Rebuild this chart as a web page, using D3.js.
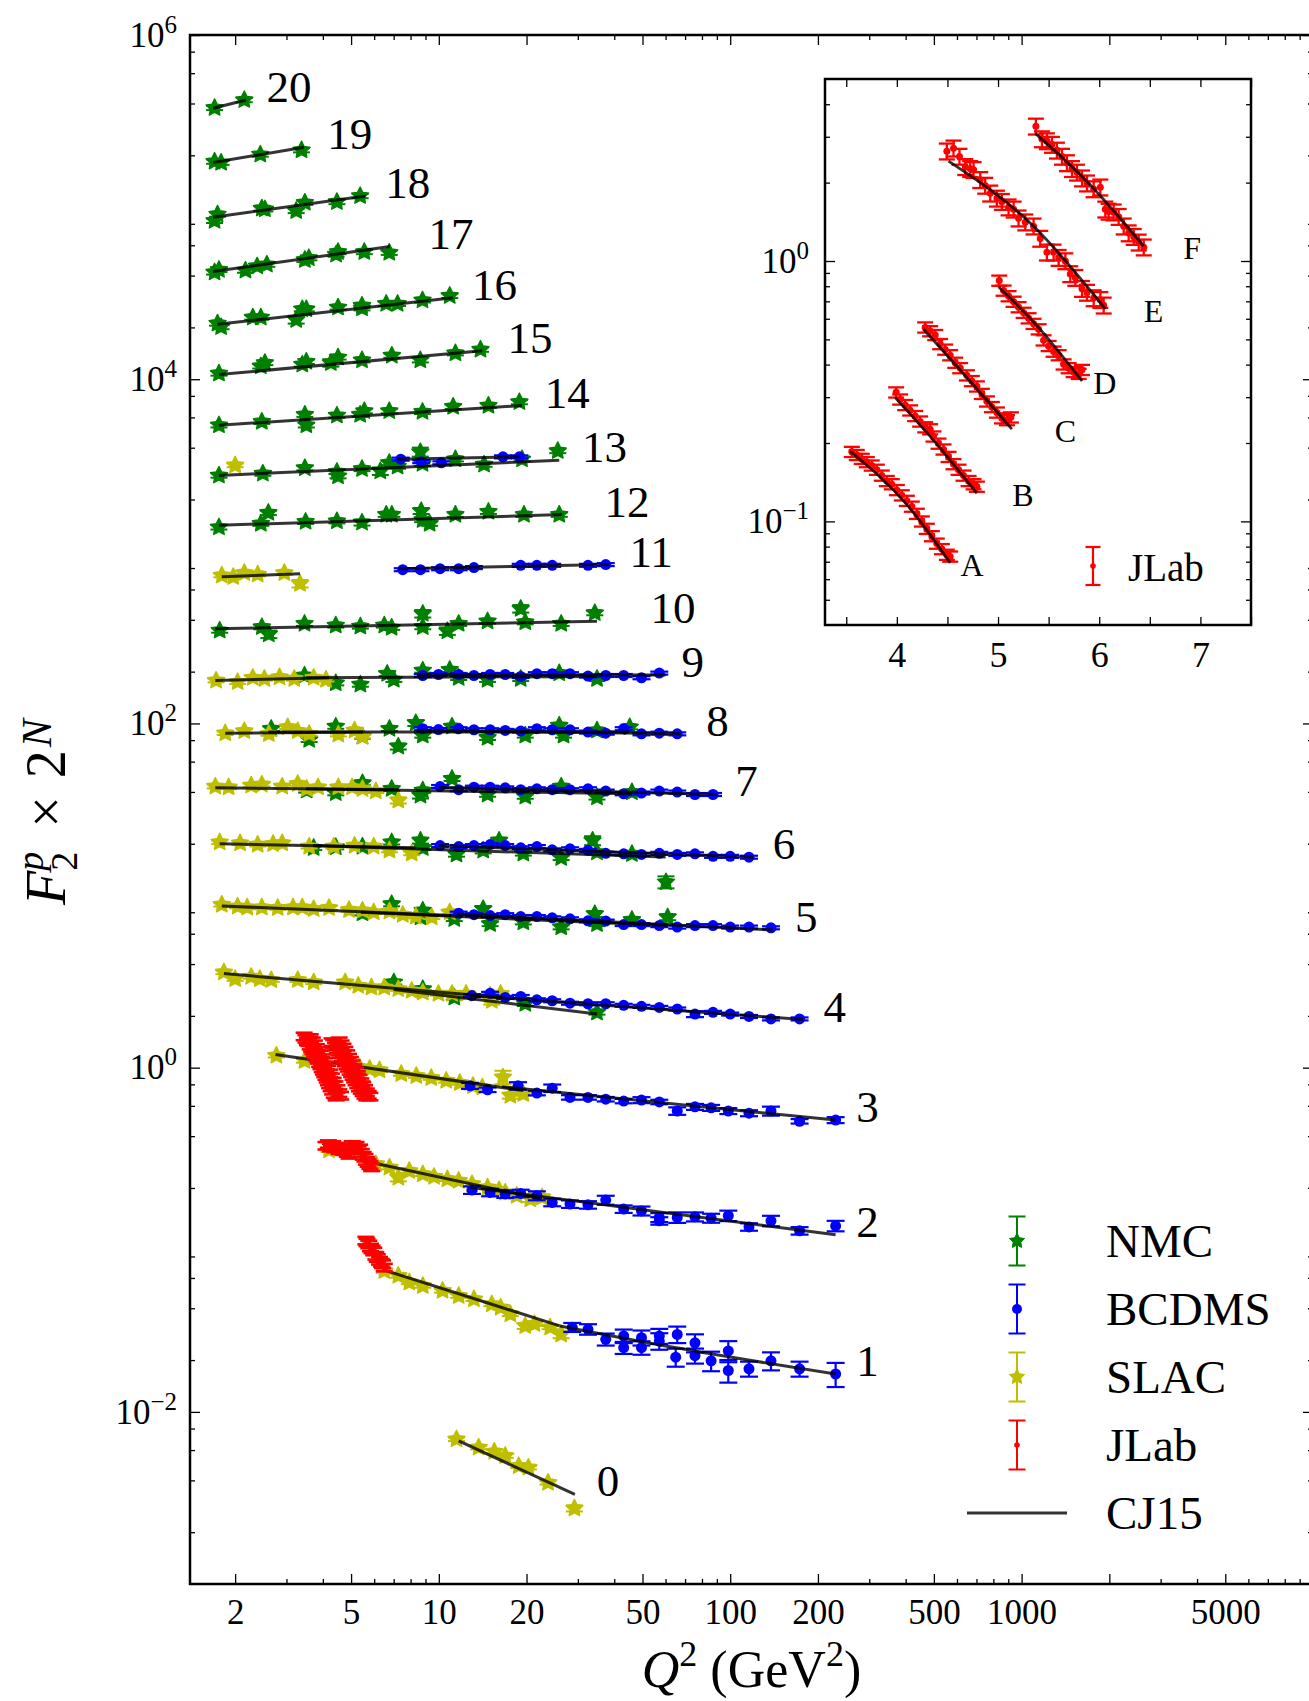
<!DOCTYPE html>
<html>
<head>
<meta charset="utf-8">
<script src="https://cdn.jsdelivr.net/npm/d3@7"></script>
<style>
    body { margin: 0; background: #fff; }
    svg text { font-family: "Liberation Serif", "DejaVu Serif", serif; }
</style>
</head>
<body>
<div id="chart"></div>
<script>

/* * * * * * * * * * * * * *
 *          DATA            *
 * * * * * * * * * * * * * */

// rows: [N, Q2, F2, relErr(optional)]  -> plotted as F2 * 2^N
const nmcData = [
    [20,1.70,0.360],[20,2.15,0.400],
    [19,1.70,0.351],[19,1.79,0.346],[19,2.44,0.386],[19,3.38,0.409],
    [18,1.70,0.318],[18,1.74,0.346],[18,2.47,0.375],[18,2.53,0.371],[18,3.24,0.363],[18,3.47,0.405],[18,4.47,0.409],[18,5.37,0.443],
    [17,1.70,0.319],[17,1.76,0.330],[17,2.17,0.327],[17,2.38,0.346],[17,2.57,0.354],[17,3.47,0.377],[17,3.58,0.386],[17,4.44,0.405],[17,4.51,0.419],[17,5.55,0.419],[17,6.76,0.415],
    [16,1.74,0.322],[16,1.79,0.307],[16,2.30,0.349],[16,2.45,0.349],[16,3.24,0.338,0.05],[16,3.40,0.390],[16,3.51,0.390],[16,4.51,0.399],[16,5.45,0.409],[16,5.45,0.395],[16,6.60,0.419],[16,7.22,0.419],[16,8.79,0.439],[16,10.9,0.466],
    [15,1.76,0.330],[15,2.45,0.363],[15,2.53,0.380],[15,3.40,0.372],[15,3.51,0.386],[15,4.26,0.380,0.05],[15,4.51,0.409],[15,5.45,0.394],[15,6.90,0.419],[15,8.64,0.394],[15,11.4,0.433],[15,13.9,0.454],
    [14,1.76,0.330],[14,2.47,0.346],[14,3.47,0.380],[14,3.51,0.330],[14,4.47,0.376],[14,5.37,0.380],[14,5.55,0.399],[14,6.76,0.399],[14,8.79,0.395],[14,11.2,0.423],[14,14.8,0.429],[14,18.9,0.450],
    [13,1.76,0.337],[13,2.49,0.346],[13,3.47,0.372],[13,4.47,0.354],[13,4.51,0.334],[13,5.45,0.368],[13,6.30,0.357,0.05],[13,6.76,0.399],[13,7.22,0.380],[13,8.64,0.461,0.06],[13,8.79,0.394],[13,11.4,0.419],[13,14.3,0.390],[13,19.3,0.419],[13,25.6,0.468],
    [12,1.76,0.337],[12,2.45,0.354],[12,2.60,0.409],[12,3.49,0.363],[12,4.47,0.366],[12,5.45,0.359,0.04],[12,6.60,0.399],[12,6.90,0.399],[12,8.70,0.419,0.04],[12,8.80,0.372],[12,9.30,0.354],[12,11.4,0.399],[12,14.8,0.415],[12,19.6,0.399],[12,25.9,0.399],
    [10,1.77,0.339],[10,2.47,0.355],[10,2.61,0.322,0.05],[10,3.46,0.371],[10,4.43,0.363],[10,5.38,0.358],[10,6.50,0.363],[10,6.89,0.352],[10,8.81,0.424,0.05],[10,8.81,0.355],[10,10.7,0.336,0.05],[10,11.7,0.371],[10,14.7,0.383],[10,19.1,0.453,0.05],[10,19.8,0.379],[10,26.3,0.371],[10,34.3,0.428],
    [9,3.46,0.371],[9,4.43,0.335],[9,5.38,0.329],[9,6.65,0.380],[9,7.01,0.351],[9,8.81,0.397],[9,10.9,0.401],[9,11.7,0.360],[9,14.7,0.351],[9,19.1,0.355],[9,25.9,0.383],[9,34.9,0.355],
    [8,2.66,0.364],[8,3.59,0.314],[8,4.43,0.375],[8,5.47,0.328],[8,6.77,0.364],[8,7.26,0.287,0.04],[8,8.34,0.393,0.04],[8,8.81,0.333],[8,11.1,0.375],[8,14.7,0.323],[8,19.8,0.333],[8,25.9,0.380],[8,26.8,0.333],[8,34.9,0.356],[8,45.2,0.372],
    [7,3.52,0.319],[7,4.43,0.308],[7,5.47,0.352],[7,6.89,0.326],[7,8.65,0.298,0.04],[7,8.81,0.319],[7,11.1,0.373],[7,14.7,0.302],[7,19.8,0.294],[7,26.3,0.336],[7,34.9,0.291],[7,46.0,0.312],
    [6,3.72,0.296],[6,4.43,0.299],[6,5.47,0.301],[6,6.89,0.319],[6,8.65,0.326,0.04],[6,8.81,0.296],[6,11.5,0.271],[6,14.2,0.286,0.04],[6,16.1,0.326,0.04],[6,19.5,0.275],[6,26.3,0.259],[6,33.7,0.326,0.06],[6,34.9,0.279],[6,46.0,0.273],[6,60.2,0.187,0.08],
    [5,5.47,0.247],[5,6.89,0.279],[5,8.65,0.234],[5,8.81,0.256],[5,11.3,0.229],[5,14.2,0.261,0.04],[5,15.0,0.214],[5,19.5,0.219],[5,26.3,0.205],[5,34.3,0.244,0.04],[5,34.9,0.214],[5,46.0,0.226],[5,61.0,0.234,0.04],
    [4,7.01,0.196],[4,8.81,0.179],[4,11.3,0.160],[4,19.8,0.147],[4,34.9,0.131]
];

const bcdmsData = [
    [13,7.40,0.419],[13,8.70,0.405],[13,10.2,0.399],[13,16.6,0.432],[13,18.9,0.432],
    [11,7.52,0.382],[11,8.65,0.382],[11,10.1,0.387],[11,11.7,0.387],[11,13.2,0.393],[11,19.1,0.405],[11,21.7,0.405],[11,24.5,0.405],[11,32.5,0.405],[11,37.4,0.409],
    [9,8.81,0.371],[9,9.97,0.376],[9,11.7,0.376],[9,13.2,0.371],[9,15.0,0.376],[9,16.9,0.376],[9,19.1,0.366],[9,21.7,0.380],[9,24.5,0.380],[9,28.2,0.380],[9,32.5,0.368],[9,37.4,0.371],[9,43.1,0.371],[9,49.6,0.360],[9,57.1,0.383],
    [8,8.81,0.364],[8,9.97,0.360],[8,11.7,0.364],[8,13.2,0.359],[8,15.0,0.359],[8,16.9,0.356],[8,19.1,0.353],[8,21.7,0.364],[8,24.5,0.359],[8,28.2,0.359],[8,32.5,0.348],[8,37.4,0.343],[8,43.1,0.364],[8,49.6,0.340],[8,57.1,0.343],[8,65.8,0.340],
    [7,10.1,0.336],[7,11.7,0.322],[7,13.2,0.333],[7,15.0,0.333],[7,16.9,0.330],[7,19.1,0.322],[7,21.7,0.326],[7,24.5,0.322],[7,28.2,0.322],[7,32.5,0.326],[7,37.4,0.316],[7,43.1,0.305],[7,49.6,0.308],[7,57.1,0.316],[7,65.8,0.312],[7,75.7,0.302],[7,87.3,0.302],
    [6,10.1,0.305],[6,11.7,0.301],[6,13.2,0.305],[6,15.0,0.309],[6,16.9,0.305],[6,19.1,0.296],[6,21.7,0.301],[6,24.5,0.288],[6,28.2,0.292],[6,32.5,0.286],[6,37.4,0.275],[6,43.1,0.273],[6,49.6,0.271],[6,57.1,0.275],[6,65.8,0.271],[6,75.7,0.273],[6,87.3,0.264],[6,100,0.264],[6,116,0.261],
    [5,11.7,0.247],[5,13.2,0.242],[5,15.0,0.239],[5,16.9,0.242],[5,19.1,0.236],[5,21.7,0.236],[5,24.5,0.232],[5,28.2,0.229],[5,32.5,0.223],[5,37.4,0.222],[5,43.1,0.212],[5,49.6,0.212],[5,57.1,0.209],[5,65.8,0.205],[5,75.7,0.209],[5,87.3,0.209],[5,100,0.205],[5,116,0.205],[5,138,0.203],
    [4,13.0,0.164],[4,15.0,0.169],[4,16.9,0.160],[4,19.1,0.162],[4,21.7,0.155],[4,24.5,0.153],[4,28.2,0.148],[4,32.5,0.147],[4,37.4,0.147],[4,43.1,0.144],[4,49.6,0.142],[4,57.1,0.140],[4,65.8,0.137],[4,75.7,0.128,0.04],[4,87.3,0.131],[4,100,0.128],[4,116,0.124],[4,138,0.120],[4,173,0.120],
    [3,12.8,0.098,0.04],[3,14.7,0.093,0.03],[3,18.7,0.098,0.05],[3,21.7,0.089,0.03],[3,24.5,0.095,0.05],[3,28.2,0.084,0.03],[3,32.5,0.084,0.03],[3,37.4,0.082,0.03],[3,43.1,0.080,0.03],[3,49.6,0.081,0.04],[3,57.1,0.079,0.03],[3,65.8,0.070,0.05],[3,75.7,0.074,0.04],[3,86.0,0.073,0.04],[3,98.5,0.070,0.04],[3,116,0.068,0.04],[3,138,0.070,0.06],[3,173,0.061,0.03],[3,230,0.062,0.04],
    [2,13.0,0.0486,0.05],[2,15.0,0.0471,0.05],[2,16.9,0.0461,0.05],[2,19.1,0.0465,0.05],[2,21.7,0.0451,0.06],[2,24.5,0.0412,0.05],[2,28.2,0.0403,0.05],[2,32.5,0.0399,0.05],[2,37.4,0.0425,0.06],[2,43.1,0.0377,0.05],[2,49.6,0.0368,0.06],[2,57.1,0.0337,0.06],[2,57.1,0.0322,0.05],[2,65.8,0.0337,0.07],[2,75.7,0.0340,0.06],[2,86.0,0.0334,0.06],[2,98.5,0.0345,0.07],[2,116,0.0297,0.05],[2,138,0.0322,0.07],[2,173,0.0282,0.05],[2,230,0.0301,0.07],
    [1,28.7,0.0155,0.06],[1,32.5,0.0151,0.07],[1,37.4,0.0132,0.08],[1,43.1,0.0138,0.09],[1,43.1,0.0118,0.08],[1,49.6,0.0118,0.09],[1,49.6,0.0135,0.10],[1,57.1,0.0129,0.11],[1,57.1,0.0138,0.10],[1,65.0,0.0104,0.12],[1,65.8,0.0141,0.11],[1,75.7,0.0126,0.12],[1,75.7,0.0106,0.10],[1,86.0,0.0099,0.13],[1,98.5,0.0113,0.14],[1,98.5,0.0087,0.15],[1,116,0.0089,0.10],[1,138,0.0099,0.12],[1,173,0.0089,0.10],[1,230,0.0083,0.16]
];

const slacData = [
    [13,2.00,0.386],
    [11,1.80,0.354],[11,1.97,0.347],[11,2.15,0.366],[11,2.39,0.359],[11,2.95,0.366],[11,3.34,0.317,0.05],
    [9,1.72,0.347],[9,2.04,0.340],[9,2.30,0.360],[9,2.52,0.355],[9,2.84,0.363],[9,3.19,0.355],[9,3.72,0.360],[9,4.10,0.351],
    [8,1.85,0.343],[8,2.15,0.353],[8,2.61,0.340],[8,3.03,0.372],[8,3.28,0.353],[8,3.59,0.340],[8,4.52,0.337],[8,5.14,0.356],[8,5.47,0.328],
    [7,1.71,0.336],[7,1.90,0.333],[7,2.27,0.341],[7,2.47,0.345],[7,2.90,0.336],[7,3.28,0.348],[7,3.52,0.326],[7,3.85,0.333],[7,4.52,0.333],[7,5.04,0.333],[7,5.47,0.326],[7,6.08,0.316],[7,7.26,0.279,0.04],
    [6,1.77,0.319],[6,2.08,0.315],[6,2.39,0.309],[6,2.70,0.312],[6,2.90,0.315],[6,3.59,0.301],[6,4.36,0.301],[6,5.14,0.305],[6,5.98,0.301],[6,6.77,0.286],[6,8.07,0.275],
    [5,1.80,0.277],[5,2.04,0.270],[5,2.20,0.267],[5,2.47,0.267],[5,2.80,0.265],[5,3.16,0.267],[5,3.40,0.267],[5,3.72,0.261],[5,4.20,0.265],[5,4.92,0.258],[5,5.47,0.256],[5,5.98,0.250],[5,6.77,0.253],[5,7.52,0.242],[5,8.34,0.236],[5,9.46,0.234],[5,10.9,0.250],
    [4,1.83,0.224],[4,2.00,0.205],[4,2.27,0.211],[4,2.43,0.205],[4,2.66,0.202],[4,3.28,0.202],[4,3.72,0.196],[4,4.77,0.196],[4,5.29,0.187],[4,5.87,0.183],[4,6.50,0.183],[4,7.26,0.179],[4,8.07,0.175],[4,8.81,0.171],[4,9.97,0.168],[4,11.1,0.168],[4,12.4,0.168],[4,15.0,0.164],[4,15.2,0.153,0.05],[4,16.3,0.168],
    [3,2.77,0.147],[3,3.46,0.137],[3,5.34,0.126],[3,5.79,0.123],[3,6.26,0.121],[3,7.43,0.115],[3,8.37,0.112],[3,9.42,0.109],[3,10.6,0.105],[3,11.8,0.102],[3,13.1,0.098],[3,14.1,0.096],[3,16.6,0.110,0.09],[3,17.6,0.086,0.04],[3,19.5,0.088],
    [2,4.20,0.0830],[2,6.08,0.0689],[2,6.77,0.0658],[2,7.26,0.0575,0.05],[2,7.92,0.0629],[2,8.81,0.0602],[2,9.63,0.0581],[2,10.7,0.0563],[2,11.7,0.0551],[2,13.0,0.0527],[2,14.7,0.0504],[2,16.1,0.0486],[2,16.9,0.0471],[2,18.5,0.0451],[2,20.6,0.0431,0.04],[2,22.6,0.0441,0.04],
    [1,6.50,0.0330],[1,7.26,0.0309],[1,7.92,0.0283],[1,8.81,0.0270],[1,10.3,0.0253],[1,11.7,0.0236],[1,13.2,0.0226],[1,15.2,0.0211],[1,16.3,0.0202],[1,17.6,0.0185],[1,19.8,0.0158,0.04],[1,21.3,0.0162],[1,24.1,0.0155],[1,26.3,0.0141,0.05],
    [0,11.5,0.00694],[0,13.7,0.00621],[0,15.5,0.00588],[0,16.9,0.00555],[0,18.8,0.00485],[0,20.3,0.00475],[0,23.7,0.00388],[0,29.2,0.00275,0.04]
];

const jlabData = [
    [3,3.45,0.190],[3,3.50,0.184],[3,3.54,0.178],[3,3.58,0.176],[3,3.60,0.180],[3,3.62,0.168],[3,3.66,0.163],[3,3.70,0.158],[3,3.72,0.163],[3,3.74,0.153],[3,3.78,0.149],[3,3.82,0.143],[3,3.85,0.150],[3,3.86,0.139],[3,3.90,0.133],[3,3.94,0.129],[3,3.96,0.137],[3,3.98,0.124],[3,4.02,0.120],[3,4.06,0.116],[3,4.08,0.124],[3,4.10,0.112],[3,4.14,0.108],[3,4.18,0.104],[3,4.20,0.111],[3,4.22,0.100],[3,4.27,0.096],[3,4.32,0.092],[3,4.34,0.099],[3,4.38,0.088],[3,4.44,0.085],
    [3,3.62,0.186],[3,3.68,0.178],[3,3.74,0.171],[3,3.80,0.163],[3,3.86,0.156],[3,3.92,0.149],[3,3.98,0.142],[3,4.04,0.135],[3,4.10,0.129],[3,4.16,0.122],[3,4.22,0.116],[3,4.28,0.110],[3,4.34,0.104],[3,4.40,0.099],[3,4.47,0.094],[3,4.54,0.089],[3,4.60,0.086],
    [3,4.30,0.176],[3,4.36,0.172],[3,4.42,0.166],[3,4.48,0.160],[3,4.50,0.168],[3,4.54,0.155],[3,4.60,0.150],[3,4.66,0.144],[3,4.70,0.150],[3,4.72,0.139],[3,4.78,0.134],[3,4.84,0.129],[3,4.88,0.136],[3,4.90,0.125],[3,4.96,0.120],[3,5.02,0.116],[3,5.05,0.124],[3,5.08,0.112],[3,5.14,0.108],[3,5.20,0.104],[3,5.25,0.110],[3,5.27,0.100],[3,5.34,0.096],[3,5.42,0.093],[3,5.45,0.099],[3,5.50,0.090],[3,5.58,0.087],[3,5.66,0.085],
    [3,4.55,0.178],[3,4.62,0.171],[3,4.69,0.164],[3,4.76,0.157],[3,4.83,0.150],[3,4.90,0.143],[3,4.97,0.137],[3,5.04,0.131],[3,5.11,0.125],[3,5.18,0.119],[3,5.25,0.114],[3,5.32,0.108],[3,5.40,0.103],[3,5.48,0.098],[3,5.56,0.094],[3,5.64,0.090],[3,5.72,0.087],[3,5.80,0.085],
    [2,4.10,0.088],[2,4.18,0.090],[2,4.25,0.086],[2,4.32,0.089],[2,4.40,0.085],[2,4.48,0.087],[2,4.55,0.083],[2,4.62,0.086],[2,4.70,0.082],[2,4.78,0.084],[2,4.85,0.080],[2,4.92,0.078],[2,5.05,0.089],[2,5.12,0.086],[2,5.20,0.088],[2,5.28,0.083],[2,5.35,0.085],[2,5.42,0.080],[2,5.50,0.077],[2,5.58,0.075],[2,5.65,0.072],[2,5.72,0.070],[2,5.80,0.068],[2,5.88,0.066],
    [1,5.62,0.0495],[1,5.67,0.0483],[1,5.75,0.0470],[1,5.83,0.0451],[1,5.90,0.0440],[1,5.98,0.0428],[1,6.08,0.0404],[1,6.15,0.0392],[1,6.26,0.0378],[1,6.35,0.0368],[1,6.41,0.0361],[1,6.50,0.0345]
];

// CJ15 curves: [N, [[Q2, F2], ...]]
const cj15Curves = [
    [20, [[1.68,0.358],[2.18,0.400]]],
    [19, [[1.68,0.346],[3.45,0.425]]],
    [18, [[1.68,0.333],[5.60,0.443]]],
    [17, [[1.68,0.322],[6.80,0.450]]],
    [16, [[1.74,0.318],[11.2,0.454]]],
    [15, [[1.76,0.325],[14.1,0.446]]],
    [14, [[1.76,0.330],[19.3,0.429]]],
    [13, [[1.76,0.337],[25.9,0.413]]],
    [13, [[7.22,0.419],[18.9,0.432]]],
    [12, [[1.76,0.346],[26.5,0.399]]],
    [11, [[1.80,0.347],[3.34,0.362]]],
    [11, [[7.26,0.387],[38.5,0.409]]],
    [10, [[1.71,0.347],[34.9,0.383]]],
    [9, [[1.71,0.347],[4.20,0.360]]],
    [9, [[3.50,0.360],[34.9,0.366]]],
    [9, [[8.40,0.376],[60.0,0.374]]],
    [8, [[1.85,0.343],[5.50,0.348]]],
    [8, [[2.60,0.348],[45.0,0.348]]],
    [8, [[8.40,0.356],[68.0,0.340]]],
    [7, [[1.71,0.330],[7.30,0.322]]],
    [7, [[3.50,0.326],[46.0,0.305]]],
    [7, [[10.0,0.333],[90.0,0.302]]],
    [6, [[1.77,0.312],[8.30,0.296]]],
    [6, [[3.70,0.305],[60.0,0.262]]],
    [6, [[10.0,0.305],[120,0.261]]],
    [5, [[1.80,0.272],[11.0,0.239]]],
    [5, [[5.40,0.250],[61.0,0.209]]],
    [5, [[11.5,0.244],[140,0.197]]],
    [4, [[1.83,0.220],[16.5,0.160]]],
    [4, [[7.00,0.178],[34.9,0.128]]],
    [4, [[12.8,0.164],[178,0.119]]],
    [3, [[2.75,0.149],[19.5,0.092]]],
    [3, [[16.5,0.097],[230,0.062]]],
    [2, [[5.98,0.0698],[22.6,0.0431]]],
    [2, [[12.8,0.0504],[230,0.0267]]],
    [1, [[6.50,0.0333],[15.2,0.0211],[26.0,0.0158]]],
    [1, [[26.0,0.0158],[63.0,0.0119],[230,0.0083]]],
    [0, [[11.7,0.00678],[29.3,0.00332]]]
];

// where each bin number sits along Q2 (index = N)
const labelQ2 = [34.8, 271, 271, 271, 209, 167, 140, 104, 82.8, 68.1, 53.3, 45.1, 37.0, 31.0, 23.1, 17.2, 13.0, 9.22, 6.55, 4.14, 2.56];

const xTickLabels = [2, 5, 10, 20, 50, 100, 200, 500, 1000, 5000];
const xMajorTicks = [2, 5, 10, 20, 50, 100, 200, 500, 1000, 2000, 5000];
const yTickExps = [-2, 0, 2, 4, 6];

// inset: JLab sets A..F  [x, F2]
const insetA = [[3.555,0.185],[3.604,0.180],[3.653,0.174],[3.703,0.169],[3.752,0.164],[3.802,0.158],[3.851,0.150],[3.901,0.143],[3.950,0.139],[4.000,0.132],[4.049,0.126],[4.099,0.120],[4.148,0.114],[4.198,0.107],[4.247,0.100],[4.296,0.0937],[4.346,0.0878],[4.395,0.0822],[4.445,0.0783],[4.494,0.0745],[4.527,0.0733]];
const insetB = [[3.993,0.313],[4.033,0.294],[4.082,0.280],[4.131,0.267],[4.181,0.254],[4.230,0.242],[4.280,0.230],[4.329,0.226],[4.362,0.212],[4.412,0.199],[4.461,0.189],[4.511,0.177],[4.560,0.166],[4.610,0.158],[4.659,0.150],[4.709,0.143],[4.758,0.139],[4.791,0.136]];
const insetC = [[4.280,0.556],[4.329,0.538],[4.379,0.520],[4.428,0.480],[4.478,0.457],[4.527,0.435],[4.577,0.407],[4.626,0.388],[4.692,0.364],[4.741,0.346],[4.791,0.330],[4.840,0.309],[4.890,0.289],[4.939,0.275],[4.989,0.262],[5.038,0.249],[5.088,0.245],[5.127,0.251]];
const insetD = [[5.012,0.841],[5.055,0.770],[5.104,0.733],[5.154,0.698],[5.203,0.665],[5.253,0.633],[5.302,0.603],[5.351,0.574],[5.401,0.547],[5.450,0.496],[5.500,0.472],[5.549,0.449],[5.599,0.435],[5.648,0.401],[5.698,0.388],[5.747,0.375],[5.797,0.369],[5.830,0.382]];
const insetE = [[4.494,2.64],[4.560,2.71],[4.619,2.52],[4.676,2.30],[4.725,2.26],[4.758,2.24],[4.824,2.05],[4.873,1.95],[4.923,1.82],[4.989,1.74],[5.038,1.69],[5.104,1.61],[5.154,1.58],[5.203,1.46],[5.269,1.41],[5.351,1.36],[5.417,1.22],[5.483,1.08],[5.549,1.08],[5.599,1.03],[5.665,1.00],[5.714,0.892],[5.764,0.863],[5.830,0.783],[5.879,0.757],[5.945,0.721],[6.011,0.710],[6.044,0.676]];
const insetF = [[5.374,3.29],[5.434,2.94],[5.483,2.89],[5.533,2.80],[5.582,2.66],[5.632,2.52],[5.681,2.38],[5.731,2.26],[5.780,2.19],[5.830,2.08],[5.879,1.99],[5.945,1.89],[6.011,1.92],[6.060,1.58],[6.093,1.55],[6.143,1.54],[6.192,1.48],[6.242,1.36],[6.291,1.28],[6.341,1.24],[6.390,1.18],[6.440,1.13]];
const insetCurves = [
    [[3.538,0.186],[4.099,0.116],[4.527,0.0693]],
    [[3.983,0.299],[4.362,0.205],[4.791,0.128]],
    [[4.263,0.547],[4.692,0.357],[5.137,0.226]],
    [[5.005,0.796],[5.384,0.565],[5.830,0.346]],
    [[4.511,2.42],[5.351,1.36],[6.060,0.655]],
    [[5.368,3.09],[5.879,2.02],[6.440,1.14]]
];
const insetNames = ["A", "B", "C", "D", "E", "F"];
const insetLabelX = [4.63, 5.14, 5.56, 5.94, 6.44, 6.83];
const insetXTicks = [3.5, 4, 4.5, 5, 5.5, 6, 6.5, 7, 7.5];

const legendNames = ["NMC", "BCDMS", "SLAC", "JLab", "CJ15"];


/* * * * * * * * * * * * * *
 *          F2Vis           *
 * * * * * * * * * * * * * */

const FONT = '"Liberation Serif", "DejaVu Serif", serif';
const COLORS = {nmc: "#008000", bcdms: "#0000ff", slac: "#bfbf00", jlab: "#ff0000"};

function starPath(r) {
    let pts = [];
    for (let i = 0; i < 10; i++) {
        let a = -Math.PI / 2 + i * Math.PI / 5;
        let rr = (i % 2) ? r * 0.5 : r;
        pts.push([rr * Math.cos(a), rr * Math.sin(a)]);
    }
    return "M" + pts.map(p => p[0].toFixed(2) + "," + p[1].toFixed(2)).join("L") + "Z";
}

class F2Vis {

    constructor(parentElement) {
        this.parentElement = parentElement;
        this.initVis();
    }

    initVis() {
        let vis = this;

        vis.width = 1309;
        vis.height = 1701;

        // main frame (right edge runs just past the picture)
        vis.frame = {left: 190, right: 1313, top: 35, bottom: 1584};
        vis.inset = {left: 825, right: 1251, top: 79, bottom: 625};

        vis.svg = d3.select("#" + vis.parentElement).append("svg")
            .attr("width", vis.width)
            .attr("height", vis.height)
            .style("display", "block");

        vis.x = d3.scaleLog().domain([1.4, 1e4]).range([vis.frame.left, vis.frame.right]);
        vis.y = d3.scaleLog().domain([1e-3, 1e6]).range([vis.frame.bottom, vis.frame.top]);

        vis.xi = d3.scaleLinear().domain([3.29, 7.5]).range([vis.inset.left, vis.inset.right]);
        vis.yi = d3.scaleLog().domain([0.04, 5]).range([vis.inset.bottom, vis.inset.top]);

        vis.wrangleData();
    }

    wrangleData() {
        let vis = this;

        let toPoint = (defErr) => (r) => {
            let s = Math.pow(2, r[0]);
            let e = r.length > 3 ? r[3] : defErr;
            return {n: r[0], q: r[1], v: r[2] * s, lo: r[2] * s * (1 - e), hi: r[2] * s * (1 + e)};
        };

        vis.nmc = nmcData.map(toPoint(0.03));
        vis.bcdms = bcdmsData.map(toPoint(0.02));
        vis.slac = slacData.map(toPoint(0.025));
        vis.jlab = jlabData.map(toPoint(0.05));

        vis.curves = cj15Curves.map(c => ({n: c[0], pts: c[1].map(p => [p[0], p[1] * Math.pow(2, c[0])])}));

        // bin label sits next to the end of the curve reaching the highest Q2
        vis.labels = labelQ2.map((q, n) => {
            let ends = vis.curves.filter(c => c.n === n).map(c => c.pts[c.pts.length - 1]);
            let last = ends.reduce((a, b) => (b[0] > a[0] ? b : a));
            return {n: n, q: q, v: last[1]};
        });

        vis.insetSets = [insetA, insetB, insetC, insetD, insetE, insetF].map((pts, i) => ({
            name: insetNames[i],
            pts: pts.map(p => ({q: p[0], v: p[1], lo: p[1] * (i > 3 ? 0.93 : 0.955), hi: p[1] * (i > 3 ? 1.07 : 1.045)})),
            curve: insetCurves[i],
            labelX: insetLabelX[i]
        }));

        vis.updateVis();
    }

    drawErrorbars(g, rows, xs, ys, color, cap, sw) {
        let eb = g.append("g").attr("stroke", color).attr("stroke-width", sw);
        eb.selectAll("line.v").data(rows).enter().append("line").attr("class", "v")
            .attr("x1", d => xs(d.q)).attr("x2", d => xs(d.q))
            .attr("y1", d => ys(d.lo)).attr("y2", d => ys(d.hi));
        eb.selectAll("line.t").data(rows).enter().append("line").attr("class", "t")
            .attr("x1", d => xs(d.q) - cap / 2).attr("x2", d => xs(d.q) + cap / 2)
            .attr("y1", d => ys(d.hi)).attr("y2", d => ys(d.hi));
        eb.selectAll("line.b").data(rows).enter().append("line").attr("class", "b")
            .attr("x1", d => xs(d.q) - cap / 2).attr("x2", d => xs(d.q) + cap / 2)
            .attr("y1", d => ys(d.lo)).attr("y2", d => ys(d.lo));
    }

    drawStars(g, rows, color, r) {
        let vis = this;
        g.append("g").selectAll("path").data(rows).enter().append("path")
            .attr("d", starPath(r))
            .attr("transform", d => `translate(${vis.x(d.q)},${vis.y(d.v)})`)
            .attr("fill", color).attr("stroke", color).attr("stroke-width", 1.3)
            .attr("stroke-linejoin", "round");
    }

    styleAxis(g, size) {
        g.select(".domain").remove();
        g.selectAll(".tick line").attr("stroke", "#000").attr("stroke-width", 1.3);
        g.attr("font-family", FONT).attr("font-size", size);
        g.selectAll(".tick text").attr("fill", "#000");
    }

    powerLabels(g, supSize, supDy) {
        g.selectAll(".tick text").each(function (d) {
            let t = d3.select(this).text("");
            let e = Math.round(Math.log10(d));
            t.append("tspan").text("10");
            t.append("tspan").attr("dy", supDy).attr("font-size", supSize).text(e < 0 ? "\u2212" + (-e) : String(e));
        });
    }

    updateVis() {
        let vis = this;
        let f = vis.frame;

        // ---------- main axes ----------
        let xMinor = [];
        [1, 10, 100, 1000].forEach(dec => [3, 4, 6, 7, 8, 9].forEach(m => xMinor.push(m * dec)));
        let yMajor = yTickExps.map(e => Math.pow(10, e));
        let yMinor = [];
        d3.range(-3, 6).forEach(k => [2, 4, 6, 8].forEach(m => yMinor.push(m * Math.pow(10, k))));

        let gxb = vis.svg.append("g").attr("transform", `translate(0,${f.bottom})`)
            .call(d3.axisBottom(vis.x).tickValues(xMajorTicks).tickSize(-10).tickSizeOuter(0).tickPadding(15)
                .tickFormat(d => xTickLabels.includes(d) ? String(d) : ""));
        vis.styleAxis(gxb, 35);
        vis.styleAxis(vis.svg.append("g").attr("transform", `translate(0,${f.bottom})`)
            .call(d3.axisBottom(vis.x).tickValues(xMinor).tickSize(-5).tickFormat("")), 35);
        vis.styleAxis(vis.svg.append("g").attr("transform", `translate(0,${f.top})`)
            .call(d3.axisTop(vis.x).tickValues(xMajorTicks).tickSize(-10).tickFormat("")), 35);
        vis.styleAxis(vis.svg.append("g").attr("transform", `translate(0,${f.top})`)
            .call(d3.axisTop(vis.x).tickValues(xMinor).tickSize(-5).tickFormat("")), 35);

        let gyl = vis.svg.append("g").attr("transform", `translate(${f.left},0)`)
            .call(d3.axisLeft(vis.y).tickValues(yMajor).tickSize(-10).tickSizeOuter(0).tickPadding(13));
        vis.styleAxis(gyl, 35);
        vis.powerLabels(gyl, 25, -14);
        vis.styleAxis(vis.svg.append("g").attr("transform", `translate(${f.left},0)`)
            .call(d3.axisLeft(vis.y).tickValues(yMinor).tickSize(-5).tickFormat("")), 35);
        vis.styleAxis(vis.svg.append("g").attr("transform", `translate(${f.right},0)`)
            .call(d3.axisRight(vis.y).tickValues(yMajor).tickSize(-10).tickFormat("")), 35);
        vis.styleAxis(vis.svg.append("g").attr("transform", `translate(${f.right},0)`)
            .call(d3.axisRight(vis.y).tickValues(yMinor).tickSize(-5).tickFormat("")), 35);

        vis.svg.append("rect")
            .attr("x", f.left).attr("y", f.top)
            .attr("width", f.right - f.left).attr("height", f.bottom - f.top)
            .attr("fill", "none").attr("stroke", "#000").attr("stroke-width", 2.5);

        // ---------- data ----------
        let plot = vis.svg.append("g");

        vis.drawErrorbars(plot, vis.nmc, vis.x, vis.y, COLORS.nmc, 17, 2);
        vis.drawStars(plot, vis.nmc, COLORS.nmc, 9);

        vis.drawErrorbars(plot, vis.slac, vis.x, vis.y, COLORS.slac, 17, 2);
        vis.drawStars(plot, vis.slac, COLORS.slac, 9);

        vis.drawErrorbars(plot, vis.bcdms, vis.x, vis.y, COLORS.bcdms, 18, 2.2);
        plot.append("g").selectAll("circle").data(vis.bcdms).enter().append("circle")
            .attr("cx", d => vis.x(d.q)).attr("cy", d => vis.y(d.v)).attr("r", 5.5)
            .attr("fill", COLORS.bcdms);

        let line = d3.line().x(d => vis.x(d[0])).y(d => vis.y(d[1])).curve(d3.curveMonotoneX);
        plot.append("g").selectAll("path").data(vis.curves).enter().append("path")
            .attr("d", d => line(d.pts))
            .attr("fill", "none").attr("stroke", "#000").attr("stroke-opacity", 0.8)
            .attr("stroke-width", 3);

        vis.drawErrorbars(plot, vis.jlab, vis.x, vis.y, COLORS.jlab, 17, 2.6);
        plot.append("g").selectAll("circle").data(vis.jlab).enter().append("circle")
            .attr("cx", d => vis.x(d.q)).attr("cy", d => vis.y(d.v)).attr("r", 3)
            .attr("fill", COLORS.jlab);

        // bin numbers
        plot.append("g").selectAll("text").data(vis.labels).enter().append("text")
            .attr("x", d => vis.x(d.q))
            .attr("y", d => vis.y(d.v) + 2)
            .attr("font-size", 45)
            .text(d => d.n);

        // ---------- axis titles ----------
        let xl = vis.svg.append("text")
            .attr("x", (f.left + f.right) / 2).attr("y", 1687)
            .attr("text-anchor", "middle").attr("font-size", 52);
        xl.append("tspan").attr("font-style", "italic").text("Q");
        xl.append("tspan").attr("font-size", 36).attr("dy", -21).text("2");
        xl.append("tspan").attr("dy", 21).text(" (GeV");
        xl.append("tspan").attr("font-size", 36).attr("dy", -21).text("2");
        xl.append("tspan").attr("dy", 21).text(")");

        let yl = vis.svg.append("text")
            .attr("transform", "translate(65,806) rotate(-90)")
            .attr("x", -99).attr("font-size", 56);
        yl.append("tspan").attr("font-style", "italic").text("F");
        yl.append("tspan").attr("font-size", 38).attr("dy", 12).text("2");
        yl.append("tspan").attr("font-size", 38).attr("font-style", "italic").attr("dx", -19).attr("dy", -34).text("p");
        yl.append("tspan").attr("dy", 22).attr("dx", 24).text("\u00d7");
        yl.append("tspan").attr("dx", 18).text("2");
        yl.append("tspan").attr("font-size", 42).attr("font-style", "italic").attr("dx", 3).attr("dy", -14).text("N");

        // ---------- legend ----------
        let lg = vis.svg.append("g");
        let rowY = (i) => 1241 + i * 68;
        let legendColors = [COLORS.nmc, COLORS.bcdms, COLORS.slac, COLORS.jlab];
        legendColors.forEach((c, i) => {
            let row = [{q: 0, v: rowY(i), lo: rowY(i) + 24.5, hi: rowY(i) - 24.5}];
            vis.drawErrorbars(lg, row, () => 1017, d => d, c, 17, 2);
        });
        lg.append("path").attr("d", starPath(8)).attr("transform", `translate(1017,${rowY(0)})`).attr("fill", COLORS.nmc).attr("stroke", COLORS.nmc);
        lg.append("circle").attr("cx", 1017).attr("cy", rowY(1)).attr("r", 5).attr("fill", COLORS.bcdms);
        lg.append("path").attr("d", starPath(8)).attr("transform", `translate(1017,${rowY(2)})`).attr("fill", COLORS.slac).attr("stroke", COLORS.slac);
        lg.append("circle").attr("cx", 1017).attr("cy", rowY(3)).attr("r", 2.8).attr("fill", COLORS.jlab);
        lg.append("line").attr("x1", 967).attr("x2", 1067).attr("y1", rowY(4)).attr("y2", rowY(4))
            .attr("stroke", "#000").attr("stroke-opacity", 0.8).attr("stroke-width", 3);
        lg.selectAll("text").data(legendNames).enter().append("text")
            .attr("x", 1106).attr("y", (d, i) => rowY(i) + 16)
            .attr("font-size", 47)
            .text(d => d);

        // ---------- inset ----------
        let ins = vis.inset;
        let gi = vis.svg.append("g");
        gi.append("rect").attr("x", ins.left).attr("y", ins.top)
            .attr("width", ins.right - ins.left).attr("height", ins.bottom - ins.top)
            .attr("fill", "#fff");

        let iyMajor = [0.1, 1];
        let iyMinor = [0.05, 0.06, 0.07, 0.08, 0.09, 0.2, 0.3, 0.4, 0.5, 0.6, 0.7, 0.8, 0.9, 2, 3, 4];

        let gib = gi.append("g").attr("transform", `translate(0,${ins.bottom})`)
            .call(d3.axisBottom(vis.xi).tickValues(insetXTicks).tickSize(-8).tickSizeOuter(0).tickPadding(16)
                .tickFormat(d => Number.isInteger(d) && d < 7.5 ? String(d) : ""));
        vis.styleAxis(gib, 36);
        vis.styleAxis(gi.append("g").attr("transform", `translate(0,${ins.top})`)
            .call(d3.axisTop(vis.xi).tickValues(insetXTicks).tickSize(-8).tickFormat("")), 36);
        let gil = gi.append("g").attr("transform", `translate(${ins.left},0)`)
            .call(d3.axisLeft(vis.yi).tickValues(iyMajor).tickSize(-10).tickSizeOuter(0).tickPadding(16));
        vis.styleAxis(gil, 35);
        vis.powerLabels(gil, 25, -14);
        vis.styleAxis(gi.append("g").attr("transform", `translate(${ins.left},0)`)
            .call(d3.axisLeft(vis.yi).tickValues(iyMinor).tickSize(-5).tickFormat("")), 35);
        vis.styleAxis(gi.append("g").attr("transform", `translate(${ins.right},0)`)
            .call(d3.axisRight(vis.yi).tickValues(iyMajor).tickSize(-10).tickFormat("")), 35);
        vis.styleAxis(gi.append("g").attr("transform", `translate(${ins.right},0)`)
            .call(d3.axisRight(vis.yi).tickValues(iyMinor).tickSize(-5).tickFormat("")), 35);

        let iline = d3.line().x(d => vis.xi(d[0])).y(d => vis.yi(d[1])).curve(d3.curveMonotoneX);
        vis.insetSets.forEach(s => {
            vis.drawErrorbars(gi, s.pts, vis.xi, vis.yi, COLORS.jlab, 16, 2.3);
            gi.append("g").selectAll("circle").data(s.pts).enter().append("circle")
                .attr("cx", d => vis.xi(d.q)).attr("cy", d => vis.yi(d.v)).attr("r", 3.5)
                .attr("fill", COLORS.jlab);
        });
        gi.append("g").selectAll("path").data(vis.insetSets).enter().append("path")
            .attr("d", d => iline(d.curve))
            .attr("fill", "none").attr("stroke", "#000").attr("stroke-opacity", 0.8).attr("stroke-width", 2.8);
        gi.append("g").selectAll("text").data(vis.insetSets).enter().append("text")
            .attr("x", d => vis.xi(d.labelX))
            .attr("y", d => vis.yi(d.curve[d.curve.length - 1][1]) + 13)
            .attr("font-size", 32)
            .text(d => d.name);

        // inset legend
        vis.drawErrorbars(gi, [{q: 0, v: 566, lo: 585, hi: 547}], () => 1093, d => d, COLORS.jlab, 15, 2.2);
        gi.append("circle").attr("cx", 1093).attr("cy", 566).attr("r", 2.8).attr("fill", COLORS.jlab);
        gi.append("text").attr("x", 1128).attr("y", 581).attr("font-size", 39).text("JLab");

        gi.append("rect").attr("x", ins.left).attr("y", ins.top)
            .attr("width", ins.right - ins.left).attr("height", ins.bottom - ins.top)
            .attr("fill", "none").attr("stroke", "#000").attr("stroke-width", 2.5);
    }
}

new F2Vis("chart");

</script>
</body>
</html>
